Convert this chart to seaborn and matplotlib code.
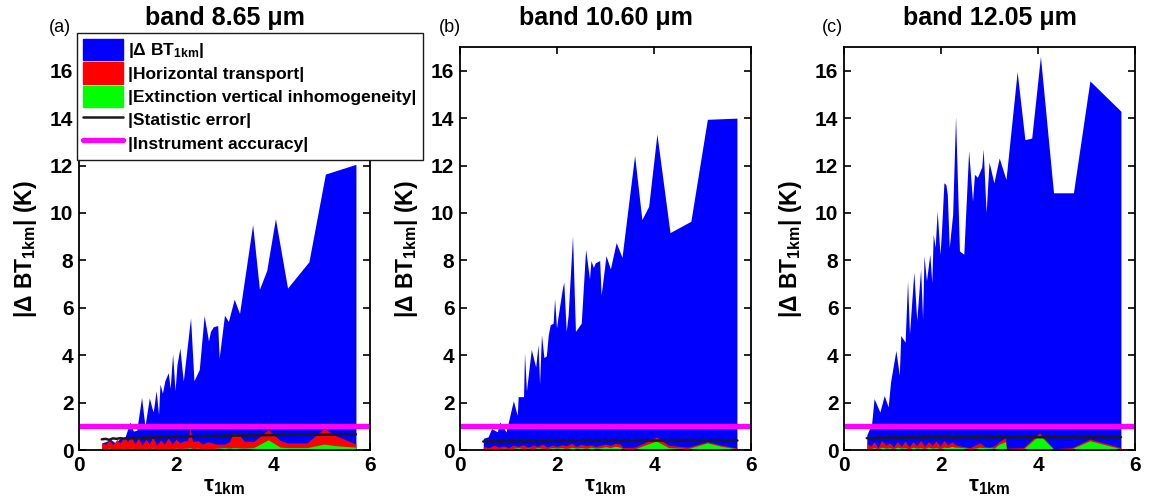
import numpy as np
import pandas as pd
import matplotlib
matplotlib.use("Agg")
import matplotlib.pyplot as plt
import seaborn as sns
from matplotlib.patches import Patch
from matplotlib.lines import Line2D

# ------------------------------------------------------------
# data
# ------------------------------------------------------------

bands = ["8.65", "10.60", "12.05"]
panel_tags = ["(a)", "(b)", "(c)"]

# |Delta BT_1km| envelope (blue area)
tau_dbt_a = [0.47, 0.55, 0.65, 0.75, 0.85, 0.95, 1.05, 1.12, 1.19, 1.29, 1.36, 1.45, 1.50,
             1.53, 1.59, 1.64, 1.67, 1.72, 1.77, 1.84, 1.88, 1.93, 1.98, 2.02, 2.08, 2.15,
             2.30, 2.37, 2.48, 2.58, 2.67, 2.71, 2.77, 2.86, 2.89, 3.00, 3.08, 3.20, 3.31,
             3.58, 3.72, 3.87, 4.05, 4.30, 4.74, 5.08, 5.71]
dbt_a = [0.30, 0.35, 0.45, 0.30, 0.50, 0.55, 1.18, 0.80, 0.83, 2.22, 1.00, 2.20, 1.80,
         1.60, 2.50, 1.50, 2.78, 2.40, 2.92, 3.26, 2.60, 4.06, 2.50, 3.60, 4.30, 2.90,
         5.58, 2.92, 3.40, 5.67, 4.60, 5.00, 5.20, 5.25, 3.88, 5.69, 5.42, 6.36, 5.76,
         9.51, 6.78, 7.57, 9.76, 6.83, 7.94, 11.64, 12.05]

tau_dbt_b = [0.48, 0.58, 0.65, 0.77, 0.82, 0.95, 1.10, 1.18, 1.20, 1.31, 1.33, 1.37, 1.47,
             1.56, 1.61, 1.64, 1.68, 1.73, 1.78, 1.82, 1.86, 1.92, 1.95, 1.99, 2.02, 2.11,
             2.14, 2.19, 2.23, 2.32, 2.38, 2.50, 2.59, 2.67, 2.70, 2.75, 2.79, 2.88, 2.91,
             3.01, 3.10, 3.22, 3.34, 3.60, 3.75, 3.89, 4.06, 4.33, 4.76, 5.10, 5.71]
dbt_b = [0.49, 0.56, 0.90, 0.77, 1.18, 0.76, 2.08, 1.46, 2.25, 2.25, 4.10, 2.50, 4.24,
         3.50, 4.45, 2.80, 4.86, 3.90, 3.97, 4.86, 5.28, 5.35, 6.39, 5.14, 5.60, 6.81,
         7.08, 5.00, 5.70, 9.03, 5.00, 5.35, 8.47, 7.22, 7.99, 7.70, 7.90, 7.99, 6.53,
         8.20, 7.64, 8.75, 8.13, 12.43, 9.72, 10.28, 13.33, 9.17, 9.65, 13.95, 14.00]

tau_dbt_c = [0.47, 0.57, 0.62, 0.74, 0.83, 0.91, 0.96, 1.07, 1.14, 1.17, 1.26, 1.31, 1.35,
             1.44, 1.50, 1.58, 1.62, 1.65, 1.70, 1.77, 1.81, 1.84, 1.88, 1.92, 1.98, 2.01,
             2.06, 2.10, 2.13, 2.17, 2.24, 2.30, 2.38, 2.47, 2.57, 2.65, 2.69, 2.75, 2.84,
             2.87, 2.93, 2.99, 3.09, 3.20, 3.34, 3.57, 3.73, 3.87, 4.05, 4.32, 4.73, 5.07,
             5.71]
dbt_c = [0.63, 1.12, 2.17, 1.60, 2.30, 1.82, 2.87, 4.20, 3.15, 4.83, 4.55, 7.14, 4.90,
         7.50, 5.46, 7.64, 5.53, 8.19, 7.14, 8.26, 7.07, 9.10, 8.54, 10.08, 8.26, 9.24,
         11.27, 11.20, 10.78, 8.54, 9.94, 14.08, 8.40, 8.26, 12.63, 10.50, 11.63, 11.50,
         11.94, 12.70, 10.00, 12.15, 11.27, 12.32, 11.41, 15.96, 13.09, 13.16, 16.60,
         10.85, 10.85, 15.57, 14.29]

# horizontal transport (red), vertical inhomogeneity (green), statistic error (black)
tau_err_a = [0.47, 0.55, 0.62, 0.70, 0.78, 0.85, 0.92, 1.00, 1.08, 1.15, 1.22, 1.30, 1.38,
             1.45, 1.52, 1.60, 1.68, 1.76, 1.84, 1.92, 2.00, 2.08, 2.16, 2.24, 2.29, 2.34,
             2.45, 2.55, 2.65, 2.75, 2.85, 3.00, 3.10, 3.18, 3.30, 3.40, 3.60, 3.90, 4.15,
             4.30, 4.70, 5.05, 5.30, 5.71]
horiz_a = [0.30, 0.25, 0.40, 0.22, 0.45, 0.28, 0.55, 0.35, 0.55, 0.25, 0.50, 0.22, 0.45,
           0.25, 0.55, 0.20, 0.42, 0.25, 0.50, 0.25, 0.45, 0.30, 0.38, 0.40, 0.90, 0.35,
           0.40, 0.25, 0.35, 0.30, 0.25, 0.25, 0.35, 0.70, 0.65, 0.38, 0.35, 0.86, 0.40,
           0.30, 0.30, 0.90, 0.60, 0.25]
vert_a = [0.05, 0.04, 0.08, 0.05, 0.06, 0.04, 0.07, 0.05, 0.08, 0.04, 0.06, 0.05, 0.07,
          0.04, 0.08, 0.05, 0.06, 0.04, 0.07, 0.05, 0.08, 0.06, 0.07, 0.08, 0.10, 0.06,
          0.08, 0.05, 0.07, 0.06, 0.08, 0.10, 0.08, 0.10, 0.09, 0.08, 0.10, 0.43, 0.12,
          0.10, 0.10, 0.25, 0.18, 0.12]
stat_a = [0.45, 0.47, 0.43, 0.49, 0.47, 0.50, 0.48, 0.51, 0.49, 0.52, 0.50, 0.53, 0.51,
          0.54, 0.52, 0.54, 0.53, 0.55, 0.54, 0.56, 0.55, 0.56, 0.56, 0.57, 0.57, 0.57,
          0.58, 0.58, 0.59, 0.59, 0.59, 0.60, 0.60, 0.61, 0.61, 0.61, 0.62, 0.63, 0.63,
          0.64, 0.64, 0.65, 0.65, 0.66]

tau_err_b = [0.48, 0.60, 0.70, 0.80, 0.90, 1.00, 1.10, 1.20, 1.30, 1.40, 1.50, 1.60, 1.70,
             1.80, 1.90, 2.00, 2.10, 2.20, 2.30, 2.40, 2.50, 2.60, 2.70, 2.80, 2.90, 3.00,
             3.10, 3.20, 3.30, 3.36, 3.60, 3.80, 4.05, 4.30, 4.70, 5.10, 5.40, 5.72]
horiz_b = [0.15, 0.10, 0.20, 0.12, 0.18, 0.10, 0.20, 0.15, 0.22, 0.12, 0.20, 0.15, 0.25,
           0.12, 0.20, 0.15, 0.22, 0.18, 0.28, 0.15, 0.25, 0.18, 0.22, 0.15, 0.20, 0.25,
           0.20, 0.28, 0.25, 0.10, 0.12, 0.30, 0.55, 0.20, 0.12, 0.35, 0.20, 0.08]
vert_b = [0.05, 0.03, 0.06, 0.04, 0.08, 0.05, 0.07, 0.10, 0.06, 0.08, 0.05, 0.10, 0.07,
          0.06, 0.10, 0.08, 0.10, 0.06, 0.12, 0.08, 0.10, 0.07, 0.12, 0.08, 0.10, 0.14,
          0.10, 0.16, 0.12, 0.05, 0.05, 0.20, 0.38, 0.10, 0.06, 0.30, 0.15, 0.05]
stat_b = [0.36, 0.36, 0.37, 0.36, 0.37, 0.37, 0.37, 0.38, 0.37, 0.38, 0.38, 0.38, 0.38,
          0.38, 0.38, 0.39, 0.38, 0.39, 0.39, 0.39, 0.39, 0.39, 0.39, 0.39, 0.40, 0.39,
          0.40, 0.40, 0.40, 0.40, 0.40, 0.40, 0.40, 0.40, 0.40, 0.40, 0.40, 0.40]

tau_err_c = [0.47, 0.55, 0.62, 0.70, 0.78, 0.86, 0.94, 1.02, 1.10, 1.18, 1.26, 1.34, 1.42,
             1.50, 1.58, 1.66, 1.74, 1.82, 1.90, 1.98, 2.06, 2.14, 2.22, 2.30, 2.45, 2.60,
             2.70, 2.80, 2.90, 3.00, 3.10, 3.20, 3.33, 3.35, 3.70, 4.03, 4.32, 4.70, 5.07,
             5.71]
horiz_c = [0.30, 0.15, 0.35, 0.10, 0.40, 0.20, 0.30, 0.12, 0.35, 0.15, 0.38, 0.12, 0.35,
           0.18, 0.40, 0.15, 0.35, 0.20, 0.38, 0.15, 0.40, 0.20, 0.35, 0.22, 0.15, 0.10,
           0.20, 0.30, 0.15, 0.12, 0.18, 0.35, 0.52, 0.08, 0.10, 0.73, 0.06, 0.10, 0.46,
           0.10]
vert_c = [0.08, 0.05, 0.10, 0.05, 0.12, 0.08, 0.10, 0.06, 0.12, 0.08, 0.10, 0.05, 0.12,
          0.08, 0.10, 0.06, 0.12, 0.08, 0.10, 0.06, 0.12, 0.10, 0.15, 0.12, 0.10, 0.06,
          0.08, 0.12, 0.10, 0.10, 0.08, 0.25, 0.35, 0.03, 0.05, 0.63, 0.04, 0.06, 0.39,
          0.05]
stat_c = [0.50, 0.51, 0.50, 0.52, 0.51, 0.52, 0.52, 0.52, 0.53, 0.52, 0.53, 0.53, 0.53,
          0.53, 0.53, 0.54, 0.53, 0.54, 0.54, 0.54, 0.54, 0.54, 0.54, 0.54, 0.54, 0.54,
          0.54, 0.54, 0.54, 0.54, 0.54, 0.54, 0.54, 0.54, 0.54, 0.54, 0.54, 0.54, 0.54,
          0.54]

instrument_accuracy = 1.0

panels = [
    (tau_dbt_a, dbt_a, tau_err_a, horiz_a, vert_a, stat_a),
    (tau_dbt_b, dbt_b, tau_err_b, horiz_b, vert_b, stat_b),
    (tau_dbt_c, dbt_c, tau_err_c, horiz_c, vert_c, stat_c),
]

# ============================================================
# style
# ============================================================

sns.set_theme(style="ticks")
plt.rcParams['font.family'] = ['Liberation Sans', 'DejaVu Sans']
plt.rcParams['font.weight'] = 'bold'
plt.rcParams['axes.labelweight'] = 'bold'
plt.rcParams['axes.titleweight'] = 'bold'
plt.rcParams['mathtext.fontset'] = 'custom'
plt.rcParams['mathtext.rm'] = 'Liberation Sans:bold'
plt.rcParams['mathtext.default'] = 'rm'
for key in ['text.color', 'axes.labelcolor', 'axes.edgecolor', 'xtick.color', 'ytick.color']:
    plt.rcParams[key] = 'black'

BLUE, RED, GREEN, MAGENTA = '#0000ff', '#ff0000', '#00ff00', '#ff00ff'

fig = plt.figure(figsize=(11.6, 5.01), dpi=100)

W, H = 1160, 501
lefts = [79, 460, 844]
tag_dx = [-19, -10, -12]

for i, (tx, dbt, te, hz, vt, st) in enumerate(panels):
    ax = fig.add_axes([lefts[i] / W, 1 - 450 / H, 291 / W, 403 / H])

    ax.fill_between(tx, 0, dbt, color=BLUE, lw=0)
    ax.fill_between(te, 0, hz, color=RED, lw=0)
    ax.fill_between(te, 0, vt, color=GREEN, lw=0)

    df = pd.DataFrame({'tau': te, 'stat': st})
    sns.lineplot(data=df, x='tau', y='stat', color='k', lw=1.8, ax=ax)
    ax.axhline(instrument_accuracy, color=MAGENTA, lw=3.8)

    ax.set_xlim(0, 6)
    ax.set_ylim(0, 17)
    ax.set_xticks([0, 2, 4, 6])
    ax.set_yticks(np.arange(0, 17, 2))
    ax.tick_params(direction='in', top=True, right=True, length=5, width=1.2,
                   labelsize=15, pad=4)
    for s in ax.spines.values():
        s.set_linewidth(1.3)

    ax.set_xlabel(r'τ$_{1km}$', fontsize=16, labelpad=1)
    ax.set_ylabel(r'|Δ BT$_{1km}$| (K)', fontsize=16.5, labelpad=8)
    ax.set_title(f'band {bands[i]} μm', fontsize=18, pad=16)
    ax.text(tag_dx[i] / 291, 1 + 19 / 403, panel_tags[i], transform=ax.transAxes,
            ha='center', va='center', fontsize=13, fontweight='normal')

handles = [
    Patch(facecolor=BLUE, edgecolor=BLUE),
    Patch(facecolor=RED, edgecolor=RED),
    Patch(facecolor=GREEN, edgecolor=GREEN),
    Line2D([], [], color='k', lw=1.8),
    Line2D([], [], color=MAGENTA, lw=3.8),
]
labels = [r'|Δ BT$_{1km}$|', '|Horizontal transport|',
          '|Extinction vertical inhomogeneity|', '|Statistic error|',
          '|Instrument accuracy|']

leg = fig.legend(handles, labels, loc='upper left',
                 bbox_to_anchor=(77 / W, 1 - 33 / H), frameon=True, fancybox=False,
                 edgecolor='k', framealpha=1, fontsize=12.5, handlelength=2.3,
                 handleheight=1.5, labelspacing=0.12, borderpad=0.35,
                 handletextpad=0.3, borderaxespad=0)
leg.get_frame().set_linewidth(1.0)

fig.savefig("out.png", dpi=100)
